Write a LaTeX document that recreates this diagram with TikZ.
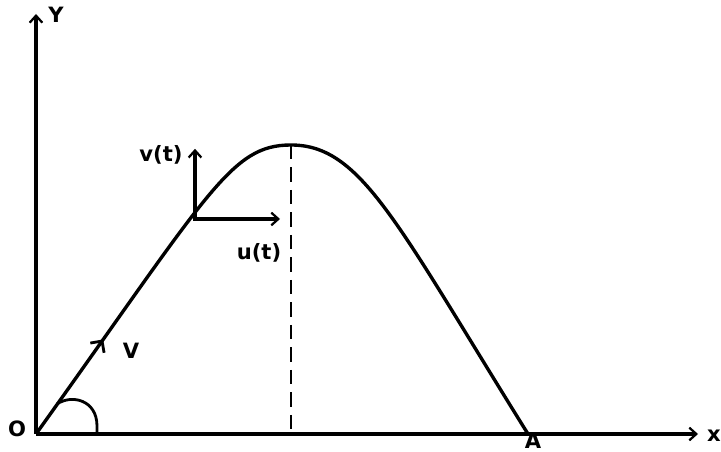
\documentclass[tikz,border=0pt]{standalone}
\usepackage{fontspec}
\setmainfont{DejaVu Sans}
\usetikzlibrary{arrows.meta,decorations.markings}

\tikzset{
  axis/.style={line width=2.6pt},
  traj/.style={line width=2.4pt,line join=round},
  comp/.style={line width=2.6pt},
  dashline/.style={line width=1.1pt,dash pattern=on 10pt off 6pt},
  anglearc/.style={line width=2pt},
  lbl/.style={font=\fontsize{15}{17}\selectfont\bfseries,inner sep=0pt}
}

\begin{document}
\begin{tikzpicture}[x=0.025cm,y=0.025cm,>={Straight Barb[length=5pt,width=9pt,line width=1.6pt]}]
  \useasboundingbox (-36,-18) rectangle (685,434);
  \coordinate (O) at (0,0);
  \coordinate (A) at (492,0);
  \coordinate (top) at (255,289);
  \coordinate (P) at (159,215);
  % axes
  \draw[axis,->] (O) -- (662,0) coordinate (xend);
  \draw[axis,->] (O) -- (0,420) coordinate (yend);
  % trajectory
  \draw[traj,postaction={decorate},
    decoration={markings,mark=at position 2.9cm with
      {\arrow{Straight Barb[length=6pt,width=12pt,line width=2pt]}}}]
    (O) .. controls (174,243) and (195,289) .. (top)
        .. controls (325,289) and (360,212) .. (A);
  \draw[dashline] (top) -- (top |- O);
  % components at P
  \draw[comp,->] ([yshift=-1.3pt]P) -- ++(0,72) coordinate (vtip);
  \draw[comp,->] (P) -- ++(85,0) coordinate (utip);
  % angle
  \draw[anglearc] (61,0) -- (61,8) .. controls (61,34) and (36,40) .. (21,30);
  % labels
  \node[lbl] (ylab) at (20,419) {Y};
  \node[lbl] (xlab) at (678,-2) {x};
  \node[lbl] (olab) at (-19,5) {O};
  \node[lbl] (alab) at (497,-7) {A};
  \node[lbl] (vlab) at (95,83) {V};
  \node[lbl] (vtlab) at (125,279) {v(t)};
  \node[lbl] (utlab) at (223,181) {u(t)};
\end{tikzpicture}
\end{document}
